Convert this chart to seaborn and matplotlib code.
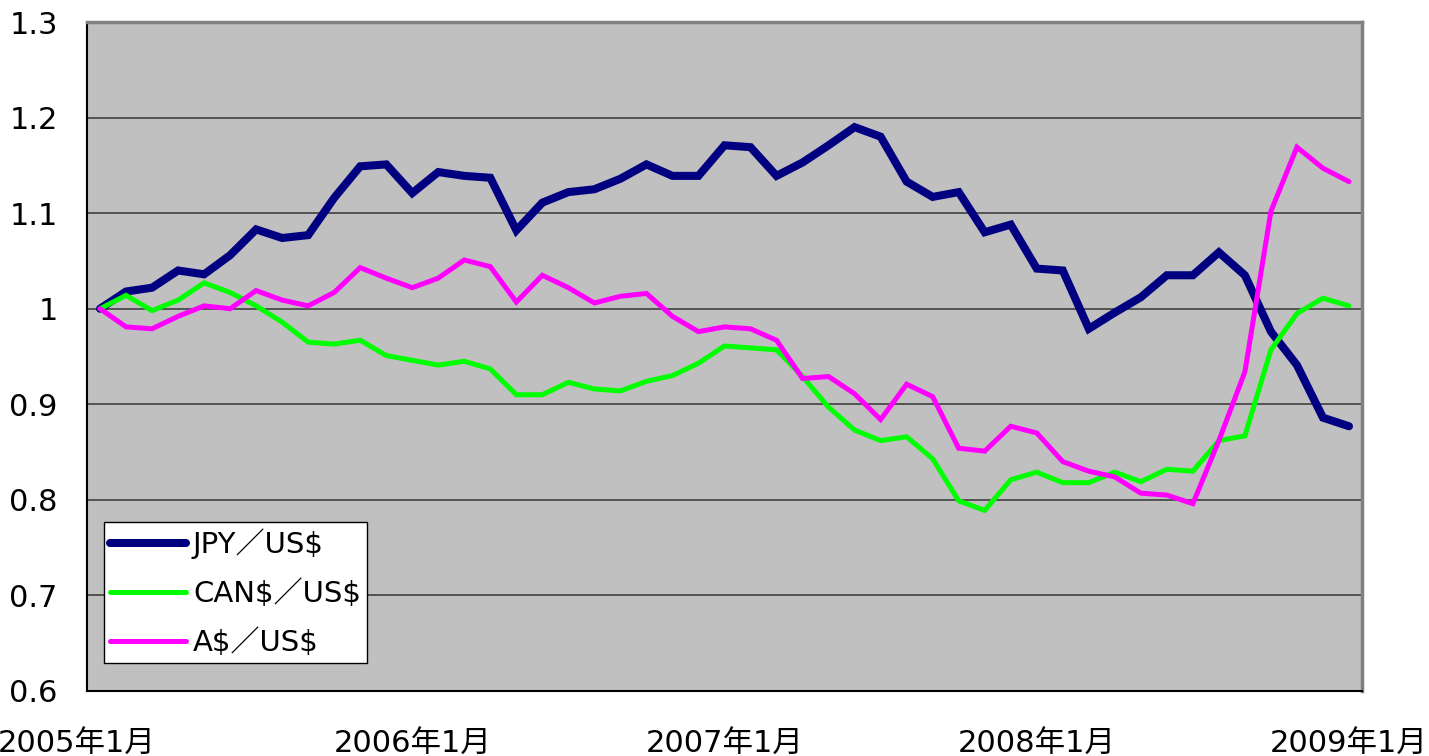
import numpy as np
import pandas as pd
import matplotlib
matplotlib.use('Agg')
import matplotlib.pyplot as plt
import matplotlib.transforms as mtransforms
import seaborn as sns

sns.set_style('white')
plt.rcParams['font.family'] = ['DejaVu Sans', 'Noto Sans CJK JP']
plt.rcParams['text.parse_math'] = False
plt.rcParams['text.color'] = 'black'
plt.rcParams['xtick.color'] = 'black'
plt.rcParams['ytick.color'] = 'black'

# monthly index, 2005/01 = 1
jpy = [1.000, 1.018, 1.022, 1.040, 1.036, 1.056, 1.083, 1.074, 1.077, 1.116,
       1.149, 1.151, 1.121, 1.143, 1.139, 1.137, 1.082, 1.111, 1.122, 1.125,
       1.136, 1.151, 1.139, 1.139, 1.171, 1.169, 1.139, 1.153, 1.171, 1.190,
       1.180, 1.133, 1.117, 1.122, 1.080, 1.088, 1.042, 1.040, 0.979, 0.996,
       1.012, 1.035, 1.035, 1.059, 1.035, 0.976, 0.941, 0.886, 0.877]
can = [1.000, 1.014, 0.998, 1.009, 1.027, 1.017, 1.003, 0.986, 0.965, 0.963,
       0.967, 0.951, 0.946, 0.941, 0.945, 0.937, 0.910, 0.910, 0.923, 0.916,
       0.914, 0.924, 0.930, 0.943, 0.961, 0.959, 0.957, 0.929, 0.897, 0.873,
       0.862, 0.866, 0.843, 0.799, 0.789, 0.821, 0.829, 0.818, 0.818, 0.829,
       0.819, 0.832, 0.830, 0.862, 0.867, 0.957, 0.995, 1.011, 1.003]
aud = [1.000, 0.981, 0.979, 0.992, 1.003, 1.000, 1.019, 1.009, 1.003, 1.017,
       1.043, 1.032, 1.022, 1.032, 1.051, 1.044, 1.007, 1.035, 1.022, 1.006,
       1.013, 1.016, 0.992, 0.976, 0.981, 0.979, 0.967, 0.927, 0.929, 0.911,
       0.884, 0.921, 0.908, 0.854, 0.851, 0.877, 0.870, 0.840, 0.830, 0.824,
       0.807, 0.805, 0.796, 0.862, 0.934, 1.102, 1.169, 1.147, 1.133]

series_names = ['JPY／US$', 'CAN$／US$', 'A$／US$']
tick_labels = ['2005年1月', '2006年1月', '2007年1月', '2008年1月', '2009年1月']
yticks = [0.6, 0.7, 0.8, 0.9, 1.0, 1.1, 1.2, 1.3]
ytick_labels = ['0.6', '0.7', '0.8', '0.9', '1', '1.1', '1.2', '1.3']

df = pd.DataFrame({'month': np.arange(len(jpy)),
                   series_names[0]: jpy,
                   series_names[1]: can,
                   series_names[2]: aud})

colors = ['#000080', '#00FF00', '#FF00FF']
widths = [5.8, 3.6, 3.6]

fig = plt.figure(figsize=(14.29, 7.56), dpi=100)
ax = fig.add_axes([87 / 1429, 1 - 691 / 756, 1275 / 1429, 669 / 756])
ax.set_facecolor('#C0C0C0')

for name, c, w in zip(series_names, colors, widths):
    sns.lineplot(data=df, x='month', y=name, ax=ax, color=c, linewidth=w,
                 label=name, solid_joinstyle='miter')

ax.set_xlim(-0.5, len(jpy) - 0.5)
ax.set_ylim(0.6, 1.3)
ax.set_yticks(yticks)
ax.set_yticklabels(ytick_labels, fontsize=22)
ax.set_xticks([0, 12, 24, 36, 48])
ax.set_xticklabels(tick_labels, fontsize=22)
ax.set_xticks([-0.5, 11.5, 23.5, 35.5, 47.5], minor=True)
ax.tick_params(axis='x', which='major', length=0, pad=27)
ax.tick_params(axis='x', which='minor', direction='in', length=9, width=1, color='black')
ax.tick_params(axis='y', direction='in', length=10, width=1.2, color='#202020', pad=21)
ax.set_xlabel('')
ax.set_ylabel('')
ax.grid(axis='y', color='#404040', linewidth=1.2)
ax.set_axisbelow(True)

for side in ['left', 'bottom']:
    ax.spines[side].set_color('black')
    ax.spines[side].set_linewidth(1.5)
for side in ['top', 'right']:
    ax.spines[side].set_color('#808080')
    ax.spines[side].set_linewidth(2.5)

# first date label is pushed right up to the figure edge
first = ax.get_xticklabels()[0]
first.set_transform(first.get_transform() +
                    mtransforms.ScaledTranslation(-23 / 100, 0, fig.dpi_scale_trans))

leg = ax.legend(loc='lower left', bbox_to_anchor=(0.0133, 0.042), borderaxespad=0,
                fontsize=21, frameon=True, fancybox=False, framealpha=1,
                edgecolor='black', handlelength=2.6, handletextpad=0.25,
                labelspacing=0.7, borderpad=0.2)
leg.get_frame().set_linewidth(1.0)
leg._legend_box.align = 'left'
leg._legend_handle_box.sep = 0  # keep default columns
leg.get_frame().set_boxstyle('square', pad=0)
for h in leg.legend_handles:
    h.set_solid_capstyle('round')

fig.savefig('out.png', dpi=100)
